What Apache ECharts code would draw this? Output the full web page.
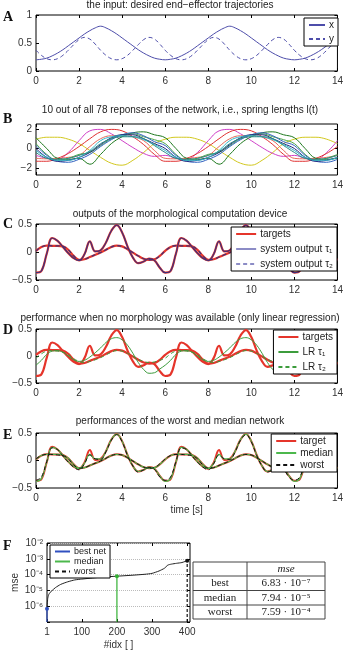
<!DOCTYPE html>
<html>
<head>
<meta charset="utf-8">
<script src="https://cdn.jsdelivr.net/npm/echarts@6/dist/echarts.min.js"></script>
<style>
  html, body { margin: 0; padding: 0; background: #fff; }
  #chart { width: 346px; height: 651px; }
</style>
</head>
<body>
<div id="chart"></div>
<script>
// ── sampling times ──────────────────────────────────────────
const t05 = [0,0.5,1,1.5,2,2.5,3,3.5,4,4.5,5,5.5,6,6.5,7,7.5,8,8.5,9,9.5,10,10.5,11,11.5,12,12.5,13,13.5,14]
const t025 = [0,0.25,0.5,0.75,1,1.25,1.5,1.75,2,2.25,2.5,2.75,3,3.25,3.5,3.75,4,4.25,4.5,4.75,5,5.25,5.5,5.75,
  6,6.25,6.5,6.75,7,7.25,7.5,7.75,8,8.25,8.5,8.75,9,9.25,9.5,9.75,10,10.25,10.5,10.75,11,11.25,11.5,11.75,
  12,12.25,12.5,12.75,13,13.25,13.5,13.75,14]

// ── A: input trajectories ───────────────────────────────────
const inputX = [0.2,0.21,0.23,0.27,0.32,0.38,0.45,0.52,0.59,0.66,0.72,0.77,0.8,0.77,0.72,0.66,0.59,0.52,0.45,0.38,0.32,0.27,0.23,0.21,
  0.2,0.21,0.23,0.27,0.32,0.38,0.45,0.52,0.59,0.66,0.72,0.77,0.8,0.77,0.72,0.66,0.59,0.52,0.45,0.38,0.32,0.27,0.23,0.21,
  0.2,0.21,0.23,0.27,0.32,0.38,0.45,0.52,0.59]
const inputY = [0.37,0.28,0.22,0.2,0.22,0.28,0.37,0.47,0.56,0.6,0.57,0.48,
  0.37,0.28,0.22,0.2,0.22,0.28,0.37,0.47,0.56,0.6,0.57,0.48,
  0.37,0.28,0.22,0.2,0.22,0.28,0.37,0.47,0.56,0.6,0.57,0.48,
  0.37,0.28,0.22,0.2,0.22,0.28,0.37,0.47,0.56,0.6,0.57,0.48,
  0.37,0.28,0.22,0.2,0.22,0.28,0.37,0.47,0.56]

// ── B: spring lengths (10 of 78) ────────────────────────────
const springYellow = [0.95,1.15,1.15,0.95,0.5,-0.2,-0.9,-1.5,-1.7,-1.2,-0.4,0.5, 0.95,1.15,1.15,0.95,0.5,-0.2,-0.9,-1.5,-1.7,-1.2,-0.4,0.5, 0.95,1.15,1.15,0.95,0.5]
const springMagenta = [-0.7,-1.0,-1.1,-0.4,0.8,1.8,1.95,1.5,0.8,0.1,-0.5,-0.8, -0.7,-1.0,-1.1,-0.4,0.8,1.8,1.95,1.5,0.8,0.1,-0.5,-0.8, -0.7,-1.0,-1.1,-0.4,0.8]
const springRed = [-1.3,-1.3,-1.0,-0.5,0.2,1.0,1.7,1.95,1.8,1.2,0.4,-0.6, -1.3,-1.3,-1.0,-0.5,0.2,1.0,1.7,1.95,1.8,1.2,0.4,-0.6, -1.3,-1.3,-1.0,-0.5,0.2]
const springCoral = [-1.0,-1.05,-1.0,-0.9,-0.7,0.2,1.0,1.3,1.3,1.2,0.8,-0.2, -1.0,-1.05,-1.0,-0.9,-0.7,0.2,1.0,1.3,1.3,1.2,0.8,-0.2, -1.0,-1.05,-1.0,-0.9,-0.7]
const springGreen = [1.1,0.0,-1.0,-1.1,-1.0,-1.6,-0.6,0.5,1.2,1.6,1.7,1.4, 1.1,0.0,-1.0,-1.1,-1.0,-1.6,-0.6,0.5,1.2,1.6,1.7,1.4, 1.1,0.0,-1.0,-1.1,-1.0]
const springGreen2 = [0.5,-0.6,-1.2,-1.0,-0.6,-0.4,0.3,1.0,1.4,1.5,1.2,0.9, 0.5,-0.6,-1.2,-1.0,-0.6,-0.4,0.3,1.0,1.4,1.5,1.2,0.9, 0.5,-0.6,-1.2,-1.0,-0.6]
const springBlue = [0.3,-0.7,-1.3,-1.4,-1.1,-0.6,0.2,0.9,1.4,1.6,1.3,0.7, 0.3,-0.7,-1.3,-1.4,-1.1,-0.6,0.2,0.9,1.4,1.6,1.3,0.7, 0.3,-0.7,-1.3,-1.4,-1.1]
const springNavy = [0.0,-0.9,-1.3,-1.2,-0.9,-0.4,0.4,1.1,1.4,1.4,1.0,0.5, 0.0,-0.9,-1.3,-1.2,-0.9,-0.4,0.4,1.1,1.4,1.4,1.0,0.5, 0.0,-0.9,-1.3,-1.2,-0.9]
const springCyan = [-0.2,-0.9,-1.2,-1.2,-0.9,-0.2,0.8,1.2,1.3,1.2,0.9,0.4, -0.2,-0.9,-1.2,-1.2,-0.9,-0.2,0.8,1.2,1.3,1.2,0.9,0.4, -0.2,-0.9,-1.2,-1.2,-0.9]
const springTeal = [-0.4,-1.0,-1.1,-1.0,-0.7,-0.3,0.5,1.0,1.2,1.2,1.0,0.3, -0.4,-1.0,-1.1,-1.0,-0.7,-0.3,0.5,1.0,1.2,1.2,1.0,0.3, -0.4,-1.0,-1.1,-1.0,-0.7]

// ── C/D/E: targets and outputs ──────────────────────────────
const targetTau1 = [-0.37,-0.34,-0.03,0.25,0.2,0.09,-0.02,-0.11,-0.15,-0.04,0.19,0.01,0.03,0.17,0.38,0.48,0.35,0.1,-0.1,-0.2,-0.17,-0.12,-0.15,-0.28,
  -0.37,-0.34,-0.03,0.25,0.2,0.09,-0.02,-0.11,-0.15,-0.04,0.19,0.01,0.03,0.17,0.38,0.48,0.35,0.1,-0.1,-0.2,-0.17,-0.12,-0.15,-0.28,
  -0.37,-0.34,-0.03,0.25,0.2,0.09,-0.02,-0.11,-0.15]
const targetTau2 = [0.02,0.09,0.115,0.11,0.11,0.1,0.04,-0.07,-0.14,-0.13,-0.09,-0.05,-0.01,0.04,0.09,0.115,0.1,0.05,-0.01,-0.07,-0.12,-0.14,-0.13,-0.07,
  0.02,0.09,0.115,0.11,0.11,0.1,0.04,-0.07,-0.14,-0.13,-0.09,-0.05,-0.01,0.04,0.09,0.115,0.1,0.05,-0.01,-0.07,-0.12,-0.14,-0.13,-0.07,
  0.02,0.09,0.115,0.11,0.11,0.1,0.04,-0.07,-0.14]
const sysTau1 = [-0.37,-0.34,-0.03,0.25,0.2,0.09,-0.02,-0.11,-0.15,-0.04,0.19,0.01,0.03,0.17,0.38,0.48,0.35,0.1,-0.1,-0.2,-0.17,-0.12,-0.15,-0.28,
  -0.37,-0.34,-0.03,0.25,0.2,0.09,-0.02,-0.11,-0.15,-0.04,0.19,0.01,0.03,0.17,0.38,0.48,0.35,0.1,-0.1,-0.2,-0.17,-0.12,-0.15,-0.28,
  -0.37,-0.34,-0.03,0.25,0.2,0.09,-0.02,-0.11,-0.15]
const sysTau2 = [0.02,0.09,0.115,0.11,0.11,0.1,0.04,-0.07,-0.14,-0.13,-0.09,-0.05,-0.01,0.04,0.09,0.115,0.1,0.05,-0.01,-0.07,-0.12,-0.14,-0.13,-0.07,
  0.02,0.09,0.115,0.11,0.11,0.1,0.04,-0.07,-0.14,-0.13,-0.09,-0.05,-0.01,0.04,0.09,0.115,0.1,0.05,-0.01,-0.07,-0.12,-0.14,-0.13,-0.07,
  0.02,0.09,0.115,0.11,0.11,0.1,0.04,-0.07,-0.14]
const lrTau1 = [-0.17,-0.08,0.03,0.09,0.1,0.07,0.0,-0.07,-0.1,-0.08,-0.02,0.06,0.15,0.25,0.32,0.34,0.3,0.2,0.05,-0.12,-0.25,-0.32,-0.31,-0.24,
  -0.17,-0.08,0.03,0.09,0.1,0.07,0.0,-0.07,-0.1,-0.08,-0.02,0.06,0.15,0.25,0.32,0.34,0.3,0.2,0.05,-0.12,-0.25,-0.32,-0.31,-0.24,
  -0.17,-0.08,0.03,0.09,0.1,0.07,0.0,-0.07,-0.1]
const lrTau2 = [-0.04,0.04,0.09,0.1,0.09,0.07,0.02,-0.05,-0.1,-0.12,-0.1,-0.07,-0.03,0.02,0.07,0.1,0.09,0.05,0.0,-0.06,-0.1,-0.12,-0.11,-0.08,
  -0.04,0.04,0.09,0.1,0.09,0.07,0.02,-0.05,-0.1,-0.12,-0.1,-0.07,-0.03,0.02,0.07,0.1,0.09,0.05,0.0,-0.06,-0.1,-0.12,-0.11,-0.08,
  -0.04,0.04,0.09,0.1,0.09,0.07,0.02,-0.05,-0.1]
const medianTau1 = [-0.38,-0.33,-0.03,0.24,0.2,0.09,-0.02,-0.11,-0.15,-0.05,0.11,0.03,0.03,0.17,0.38,0.48,0.35,0.1,-0.1,-0.2,-0.17,-0.12,-0.15,-0.28,
  -0.38,-0.33,-0.03,0.24,0.2,0.09,-0.02,-0.11,-0.15,-0.05,0.11,0.03,0.03,0.17,0.38,0.48,0.35,0.1,-0.1,-0.2,-0.17,-0.12,-0.15,-0.28,
  -0.38,-0.33,-0.03,0.24,0.2,0.09,-0.02,-0.11,-0.15]
const medianTau2 = [0.02,0.09,0.11,0.11,0.11,0.1,0.04,-0.07,-0.14,-0.13,-0.09,-0.05,-0.01,0.04,0.09,0.11,0.1,0.05,-0.01,-0.07,-0.12,-0.14,-0.13,-0.07,
  0.02,0.09,0.11,0.11,0.11,0.1,0.04,-0.07,-0.14,-0.13,-0.09,-0.05,-0.01,0.04,0.09,0.11,0.1,0.05,-0.01,-0.07,-0.12,-0.14,-0.13,-0.07,
  0.02,0.09,0.11,0.11,0.11,0.1,0.04,-0.07,-0.14]
const worstTau1 = [-0.36,-0.3,-0.02,0.23,0.2,0.08,-0.03,-0.12,-0.17,-0.06,0.1,0.03,0.02,0.16,0.37,0.47,0.34,0.09,-0.1,-0.21,-0.17,-0.13,-0.16,-0.3,
  -0.36,-0.3,-0.02,0.23,0.2,0.08,-0.03,-0.12,-0.17,-0.06,0.1,0.03,0.02,0.16,0.37,0.47,0.34,0.09,-0.1,-0.21,-0.17,-0.13,-0.16,-0.3,
  -0.36,-0.3,-0.02,0.23,0.2,0.08,-0.03,-0.12,-0.17]
const worstTau2 = [0.03,0.09,0.11,0.11,0.1,0.09,0.03,-0.08,-0.14,-0.13,-0.09,-0.05,-0.01,0.04,0.09,0.11,0.1,0.05,-0.01,-0.07,-0.12,-0.14,-0.13,-0.06,
  0.03,0.09,0.11,0.11,0.1,0.09,0.03,-0.08,-0.14,-0.13,-0.09,-0.05,-0.01,0.04,0.09,0.11,0.1,0.05,-0.01,-0.07,-0.12,-0.14,-0.13,-0.06,
  0.03,0.09,0.11,0.11,0.1,0.09,0.03,-0.08,-0.14]

// ── F: sorted mse over all networks ─────────────────────────
const netIdx = [1,3,6,10,15,25,40,60,80,100,130,160,200,240,280,300,320,335,345,355,370,385,400]
const netMse = [6.83e-7,3.0e-6,5.5e-6,7.5e-6,9.5e-6,1.5e-5,2.4e-5,3.5e-5,4.6e-5,5.2e-5,6.1e-5,7.0e-5,7.94e-5,9.0e-5,1.05e-4,1.2e-4,1.7e-4,2.5e-4,4.0e-4,4.6e-4,5.2e-4,5.8e-4,7.59e-4]
const stemIdx = [1, 200, 400]
const stemMse = [6.83e-7, 7.94e-5, 7.59e-4]
const idxTicks = [1, 100, 200, 300, 400]
const tableRows = ['best', 'median', 'worst']
const tableVals = ['6.83 · 10⁻⁷', '7.94 · 10⁻⁵', '7.59 · 10⁻⁴']

// ── helpers ─────────────────────────────────────────────────
const SANS = '"Liberation Sans", Arial, Helvetica, sans-serif'
const SERIF = '"Liberation Serif", "DejaVu Serif", serif'
const RED = '#e5352b'
const pts = (xs, ys) => xs.map((x, i) => [x, ys[i]])
const minus = v => String(v).replace('-', '−')
const SUP = { '-': '⁻', '0': '⁰', '1': '¹', '2': '²', '3': '³', '4': '⁴', '5': '⁵', '6': '⁶', '7': '⁷', '8': '⁸', '9': '⁹' }
const sup = n => String(n).split('').map(c => SUP[c]).join('')

const boxes = [
  { left: 36, top: 15, width: 303, height: 56 },
  { left: 36, top: 124, width: 303, height: 51 },
  { left: 36, top: 224, width: 303, height: 56 },
  { left: 36, top: 329, width: 303, height: 54 },
  { left: 36, top: 433, width: 303, height: 55 },
  { left: 47, top: 543, width: 143, height: 82 },
]
const grid = boxes.map(b => ({ ...b, show: true, borderColor: '#000', borderWidth: 1, backgroundColor: '#fff' }))

const tick = { inside: true, length: 3, lineStyle: { color: '#000', width: 1 } }
const label = { fontSize: 10, color: '#333', fontFamily: SANS }
const noLine = { show: false, onZero: false }
const xAxis = []
const yAxis = []

function timeAxes(gi, ymin, ymax, interval, custom) {
  const x = { gridIndex: gi, type: 'value', min: 0, max: 14, interval: 2, axisLine: noLine, splitLine: { show: false } }
  xAxis.push({ ...x, position: 'bottom', axisTick: tick, axisLabel: { ...label, margin: 5 } })
  xAxis.push({ ...x, position: 'top', axisTick: tick, axisLabel: { show: false } })
  const y = { gridIndex: gi, type: 'value', min: ymin, max: ymax, axisLine: noLine, splitLine: { show: false } }
  if (interval) y.interval = interval
  const lab = { ...label, margin: 4, formatter: minus }
  const tk = { ...tick }
  if (custom) { lab.customValues = custom; tk.customValues = custom }
  yAxis.push({ ...y, position: 'left', axisTick: tk, axisLabel: lab })
  yAxis.push({ ...y, position: 'right', axisTick: tk, axisLabel: { show: false } })
}
timeAxes(0, 0, 1, 0.5)
timeAxes(1, -2.7, 2.5, null, [-2, 0, 2])
timeAxes(2, -0.5, 0.5, 0.5)
timeAxes(3, -0.5, 0.5, 0.5)
timeAxes(4, -0.5, 0.5, 0.5)
xAxis[8].name = 'time [s]'
xAxis[8].nameLocation = 'middle'
xAxis[8].nameGap = 17
xAxis[8].nameTextStyle = { fontSize: 10, color: '#333', fontFamily: SANS }

// F axes
const fx = { gridIndex: 5, type: 'value', min: 1, max: 408, axisLine: noLine, splitLine: { show: false } }
xAxis.push({ ...fx, position: 'bottom', axisTick: { ...tick, customValues: idxTicks }, axisLabel: { ...label, margin: 5, customValues: idxTicks },
  name: '#idx [ ]', nameLocation: 'middle', nameGap: 18, nameTextStyle: { fontSize: 10, color: '#333', fontFamily: SANS } })
xAxis.push({ ...fx, position: 'top', axisTick: { ...tick, customValues: idxTicks }, axisLabel: { show: false } })
const fy = { gridIndex: 5, type: 'log', logBase: 10, min: 1e-7, max: 1e-2, axisLine: noLine }
yAxis.push({ ...fy, position: 'left', axisTick: tick,
  axisLabel: { ...label, margin: 4, formatter: v => { const e = Math.round(Math.log10(v)); return e === -7 ? '' : '10' + sup(e) } },
  splitLine: { show: true, showMinLine: false, showMaxLine: false, lineStyle: { color: '#bbb', type: 'dotted' } },
  name: 'mse', nameLocation: 'middle', nameGap: 27, nameTextStyle: { fontSize: 10, color: '#333', fontFamily: SANS } })
yAxis.push({ ...fy, position: 'right', axisTick: tick, axisLabel: { show: false }, splitLine: { show: false } })

function line(name, gi, xs, ys, color, width, dashed, z) {
  return {
    type: 'line', name, xAxisIndex: gi * 2, yAxisIndex: gi * 2, data: pts(xs, ys),
    symbol: 'none', smooth: 0.4, silent: true, z: z || 2,
    lineStyle: { color, width, type: dashed ? [4, 3] : 'solid' }, itemStyle: { color },
  }
}

const series = [
  line('x', 0, t025, inputX, '#4d4daa', 1),
  line('y', 0, t025, inputY, '#4d4daa', 1, true),

  line('s1', 1, t05, springYellow, '#d2c81e', 1),
  line('s2', 1, t05, springMagenta, '#d040c8', 1),
  line('s3', 1, t05, springRed, '#e03030', 1),
  line('s4', 1, t05, springCoral, '#e86a5a', 1),
  line('s5', 1, t05, springGreen, '#1f7a1f', 1),
  line('s6', 1, t05, springGreen2, '#4aa84a', 1),
  line('s7', 1, t05, springBlue, '#3060c0', 1),
  line('s8', 1, t05, springNavy, '#22227a', 1),
  line('s9', 1, t05, springCyan, '#30b8c8', 1),
  line('s10', 1, t05, springTeal, '#2a8a8a', 1),

  line('targets', 2, t025, targetTau1, RED, 2.2),
  line('targets', 2, t025, targetTau2, RED, 2.2),
  line('system output τ₁', 2, t025, sysTau1, '#40307a', 1.2, false, 3),
  line('system output τ₂', 2, t025, sysTau2, '#40307a', 1.2, true, 3),

  line('targets', 3, t025, targetTau1, RED, 2.2),
  line('targets', 3, t025, targetTau2, RED, 2.2),
  line('LR τ₁', 3, t025, lrTau1, '#3c9c3c', 1, false, 3),
  line('LR τ₂', 3, t025, lrTau2, '#3c9c3c', 1, true, 3),

  line('target', 4, t025, targetTau1, RED, 2),
  line('target', 4, t025, targetTau2, RED, 2),
  line('median', 4, t025, medianTau1, '#4cb84c', 1.2, false, 3),
  line('median', 4, t025, medianTau2, '#4cb84c', 1.2, false, 3),
  line('worst', 4, t025, worstTau1, '#111', 1, true, 3),
  line('worst', 4, t025, worstTau2, '#111', 1, true, 3),
]

// F curve and stems
series.push({ ...line('curve', 5, netIdx, netMse, '#222', 1), smooth: 0.2 })
const stemColors = ['#3050c0', '#33b033', '#111']
const stemNames = ['best net', 'median', 'worst']
stemIdx.forEach((ix, i) => {
  series.push({
    type: 'line', name: stemNames[i], xAxisIndex: 10, yAxisIndex: 10, silent: true, z: 3,
    showSymbol: true, symbol: 'circle', symbolSize: 4,
    lineStyle: { color: stemColors[i], width: 1.2, type: i === 2 ? [3, 2] : 'solid' },
    itemStyle: { color: stemColors[i] },
    data: [{ value: [ix, 1e-7], symbol: 'none' }, { value: [ix, stemMse[i]] }],
  })
})

const legendBase = {
  orient: 'vertical', align: 'left', selectedMode: false, z: 10,
  backgroundColor: '#fff', borderColor: '#000', borderWidth: 1, borderRadius: 0,
  padding: [2, 4, 2, 4], itemWidth: 20, itemHeight: 10, itemGap: 4,
  itemStyle: { opacity: 0 },
  textStyle: { fontSize: 10, color: '#222', fontFamily: SANS, padding: [0, 0, 0, -1] },
}
const legend = [
  { ...legendBase, data: ['x', 'y'], right: 8, top: 18, itemWidth: 16 },
  { ...legendBase, right: 9, top: 227, itemGap: 5,
    data: ['targets', { name: 'system output τ₁', lineStyle: { color: '#8c8cc6' } }, { name: 'system output τ₂', lineStyle: { color: '#8c8cc6' } }] },
  { ...legendBase, data: ['targets', 'LR τ₁', 'LR τ₂'], right: 9, top: 330, itemGap: 5 },
  { ...legendBase, data: ['target', 'median', 'worst'], right: 9, top: 434, itemGap: 2 },
  { ...legendBase, data: ['best net', 'median', 'worst'], left: 50, top: 545, itemWidth: 15, itemHeight: 9, itemGap: 1,
    textStyle: { ...legendBase.textStyle, fontSize: 9 } },
]

// titles, panel letters and the table
const titles = [
  ['the input: desired end−effector trajectories', 5],
  ['10 out of all 78 reponses of the network, i.e., spring lengths l(t)', 110],
  ['outputs of the morphological computation device', 214],
  ['performance when no morphology was available (only linear regression)', 318],
  ['performances of the worst and median network', 421],
]
const letters = [['A', 17], ['B', 119], ['C', 224], ['D', 330], ['E', 435], ['F', 546]]
const graphic = []
titles.forEach(([text, y]) => graphic.push({ type: 'text', x: 180, y, style: { text, align: 'center', verticalAlign: 'middle', fontSize: 10, fontFamily: SANS, fill: '#222' } }))
letters.forEach(([text, y]) => graphic.push({ type: 'text', x: 3, y, style: { text, verticalAlign: 'middle', fontSize: 14, fontWeight: 'bold', fontFamily: SERIF, fill: '#111' } }))

const tb = { x0: 193, x1: 325, xm: 247, rows: [562, 576, 590.5, 605, 619] }
const tline = (x1, y1, x2, y2) => ({ type: 'line', shape: { x1, y1, x2, y2 }, style: { stroke: '#444', lineWidth: 1 } })
graphic.push({ type: 'rect', shape: { x: tb.x0, y: tb.rows[0], width: tb.x1 - tb.x0, height: tb.rows[4] - tb.rows[0] }, style: { fill: '#fff', stroke: '#444', lineWidth: 1 } })
tb.rows.slice(1, 4).forEach(y => graphic.push(tline(tb.x0, y, tb.x1, y)))
graphic.push(tline(tb.xm, tb.rows[0], tb.xm, tb.rows[4]))
const cellText = (text, x, r, italic) => ({ type: 'text', x, y: (tb.rows[r] + tb.rows[r + 1]) / 2,
  style: { text, align: 'center', verticalAlign: 'middle', fontSize: 11, fontStyle: italic ? 'italic' : 'normal', fontFamily: SERIF, fill: '#222' } })
graphic.push(cellText('mse', (tb.xm + tb.x1) / 2, 0, true))
tableRows.forEach((r, i) => {
  graphic.push(cellText(r, (tb.x0 + tb.xm) / 2, i + 1))
  graphic.push(cellText(tableVals[i], (tb.xm + tb.x1) / 2, i + 1))
})

const chart = echarts.init(document.getElementById('chart'), null, { renderer: 'canvas' })
chart.setOption({
  animation: false,
  backgroundColor: '#fff',
  textStyle: { fontFamily: SANS },
  grid, xAxis, yAxis, legend, series, graphic,
})
</script>
</body>
</html>
